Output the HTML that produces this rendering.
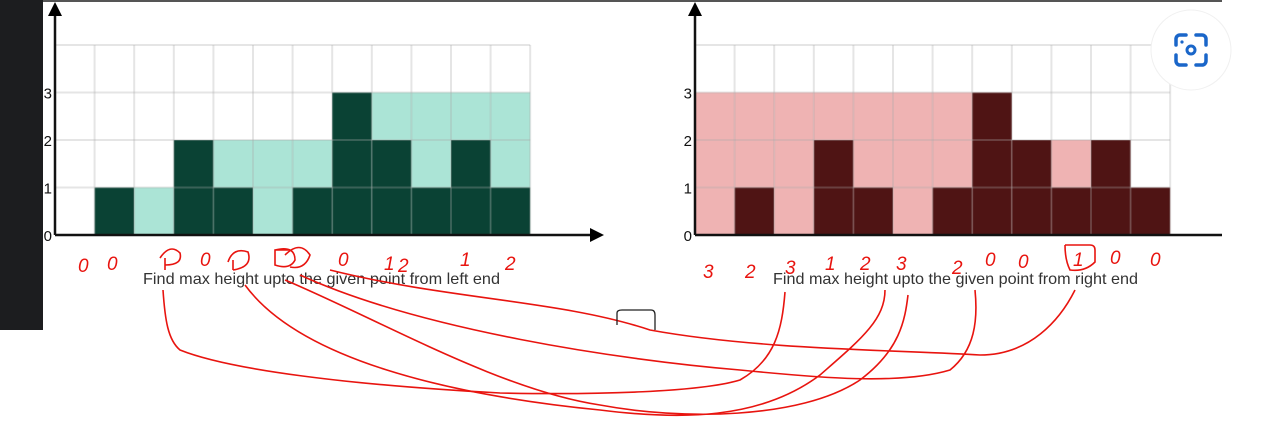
<!DOCTYPE html>
<html><head><meta charset="utf-8"><style>
body{margin:0;width:1288px;height:422px;overflow:hidden;background:#fff;font-family:"Liberation Sans",sans-serif}
svg{position:absolute;left:0;top:0}
</style></head><body>
<svg width="1288" height="422" viewBox="0 0 1288 422">
<rect x="0" y="0" width="43" height="330" fill="#1c1d1f"/>
<line x1="43" y1="1" x2="1222" y2="1" stroke="#555" stroke-width="2"/>
<g id="left-chart"></g>
<g id="right-chart"></g>
<text x="143" y="284" font-size="16" fill="#333" textLength="357" lengthAdjust="spacingAndGlyphs">Find max height upto the given point from left end</text>
<text x="773" y="284" font-size="16" fill="#333" textLength="365" lengthAdjust="spacingAndGlyphs">Find max height upto the given point from right end</text>
<g>
<circle cx="1191" cy="50" r="40" fill="#fff" stroke="#f0f0f0"/>
<path d="M1176 45v-6a4 4 0 0 1 4-4h6 M1196 35h6a4 4 0 0 1 4 4v6 M1206 55v6a4 4 0 0 1-4 4h-6 M1186 65h-6a4 4 0 0 1-4-4v-6" fill="none" stroke="#1a66c9" stroke-width="3.5" stroke-linecap="round"/>
<circle cx="1191" cy="50" r="4" fill="none" stroke="#1a66c9" stroke-width="3"/>
<circle cx="1182" cy="42" r="1.6" fill="#1a66c9"/>
</g>
<g fill="none" stroke="#e8140f" stroke-width="1.6">
<path d="M163 290 C165 320 168 340 180 350 C230 370 350 385 500 393 C600 395 700 392 740 380 C775 360 782 330 785 292"/>
<path d="M245 285 C300 360 450 395 600 410 C680 420 760 420 820 375 C860 340 885 320 885 290"/>
<path d="M285 280 C380 320 500 390 600 405 C680 420 800 420 860 380 C900 350 905 320 908 295"/>
<path d="M300 275 C420 330 620 360 740 370 C820 378 900 385 950 370 C975 350 978 320 975 290"/>
<path d="M330 270 C450 300 560 300 650 330 C760 350 900 350 980 355 C1030 355 1060 320 1075 290"/>
<path d="M617 325 V313 Q617 310 622 310 H651 Q655 310 655 315 V330" stroke="#222" stroke-width="1.3"/>
<path d="M160 258 q10 -15 20 -5 q3 12 -15 12 M165 258 V270"/>
<path d="M228 262 q5 -15 20 -10 q5 15 -15 18 M233 260 v10"/>
<path d="M275 250 q20 -5 20 10 q-5 10 -20 5 v-15 h15"/>
<path d="M285 255 q15 -15 25 0 q-5 15 -20 12"/>
<path d="M1065 245 h25 q5 0 5 5 v12 q-10 10 -25 8 q-5 -10 -5 -25"/>
</g>
<g fill="#e8140f" font-family="Liberation Sans, sans-serif" font-style="italic" font-size="19">
<text x="78" y="272">0</text><text x="107" y="270">0</text><text x="200" y="266">0</text><text x="338" y="266">0</text><text x="384" y="270">1</text><text x="398" y="272">2</text><text x="460" y="266">1</text><text x="505" y="270">2</text>
<text x="703" y="278">3</text><text x="745" y="278">2</text><text x="785" y="274">3</text><text x="825" y="270">1</text><text x="860" y="270">2</text><text x="896" y="270">3</text><text x="952" y="274">2</text><text x="985" y="266">0</text><text x="1018" y="268">0</text><text x="1073" y="266">1</text><text x="1110" y="264">0</text><text x="1150" y="266">0</text>
</g>
</svg>
<script>
const heights=[0,1,0,2,1,0,1,3,2,1,2,1];
const leftMax=[0,1,1,2,2,2,2,3,3,3,3,3];
const rightMax=[3,3,3,3,3,3,3,3,2,2,2,1];
const yTicks=[0,1,2,3];
const NS="http://www.w3.org/2000/svg";
function mk(p,t,a){const e=document.createElementNS(NS,t);for(const k in a)e.setAttribute(k,a[k]);p.appendChild(e);return e;}
function draw(id,x0,maxArr,lightCol,darkCol,axisEnd,prefix){
 const g=document.getElementById(id);
 const cw=39.6,rh=47.5,base=235,top=45,n=heights.length;
 const xs=i=>x0+i*cw, ys=v=>base-v*rh;
 for(let i=0;i<n;i++){
  const lb=mk(g,'rect',{x:xs(i),y:ys(maxArr[i]),width:cw,height:maxArr[i]*rh,fill:lightCol});
  
  
  const b=mk(g,'rect',{x:xs(i),y:ys(heights[i]),width:cw,height:heights[i]*rh,fill:darkCol});
  
  
 }
 for(let i=0;i<=n;i++){const l=mk(g,'line',{x1:xs(i),y1:top,x2:xs(i),y2:base,stroke:'rgba(170,170,170,0.3)','stroke-width':2});
  }
 for(let r=0;r<=4;r++){const l=mk(g,'line',{x1:x0,y1:ys(r),x2:xs(n),y2:ys(r),stroke:'rgba(170,170,170,0.3)','stroke-width':2});
  }
 const ya=mk(g,'line',{x1:x0,y1:base,x2:x0,y2:14,stroke:'#111','stroke-width':2.5});
 
 const ah=mk(g,'polygon',{points:`${x0-7},16 ${x0+7},16 ${x0},2`,fill:'#000'});
 
 const xa=mk(g,'line',{x1:x0,y1:base,x2:axisEnd,y2:base,stroke:'#111','stroke-width':2.5});
 
 if(axisEnd<1220){const xh=mk(g,'polygon',{points:`${axisEnd},${base-7} ${axisEnd},${base+7} ${axisEnd+14},${base}`,fill:'#000'});
  }
 yTicks.forEach(v=>{const t=mk(g,'text',{x:x0-3,y:ys(v)+6,'font-size':15,'text-anchor':'end',fill:'#111'});t.textContent=v;
  });
}
draw('left-chart',55,leftMax,'#abe4d6','#0a4234',590,'left');
draw('right-chart',695,rightMax,'#efb3b3','#4f1414',1222,'right');
</script>
</body></html>
